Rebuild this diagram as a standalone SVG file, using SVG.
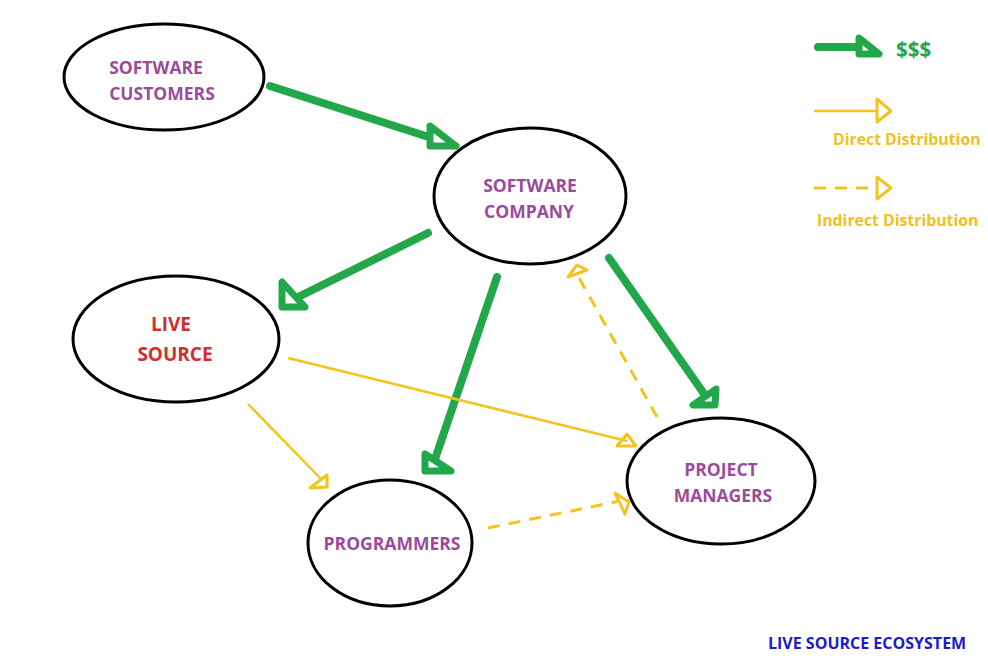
<svg xmlns="http://www.w3.org/2000/svg" width="988" height="668" viewBox="0 0 988 668">
<style>
.node ellipse{fill:none;stroke:#000;stroke-width:3}
.lbl{font-family:"Open Sans","Noto Sans",sans-serif;font-weight:bold;text-anchor:middle;dominant-baseline:central}
.pur{fill:#9b4b9b;font-size:17.5px}
.red{fill:#d22e2e;font-size:19px}
.g{stroke:#22a84a;stroke-width:8;stroke-linecap:round;fill:none}
.gh{stroke:#22a84a;stroke-width:7;stroke-linejoin:round;fill:#fff}
.y{stroke:#f2c41d;stroke-width:2.5;fill:none}
.yd{stroke:#f2c41d;stroke-width:3;fill:none;stroke-dasharray:12 9}
.yh{stroke:#f2c41d;stroke-width:3;fill:none;stroke-linejoin:round}
.leg{font-family:"Open Sans","Noto Sans",sans-serif;font-weight:bold;fill:#f2c01d;font-size:15.8px}
</style>
<rect width="988" height="668" fill="#fff"/>
<g id="connectors">
<line class="g" x1="270" y1="86" x2="438" y2="140"/>
<polygon class="gh" points="430,126 456,146 430,146"/>
<line class="g" x1="428" y1="233" x2="292" y2="300"/>
<polygon class="gh" points="282,282 282,307 305,307"/>
<line class="g" x1="497" y1="277" x2="434" y2="462"/>
<polygon class="gh" points="425,454 425,471 451,471"/>
<line class="g" x1="609" y1="258" x2="707" y2="398"/>
<polygon class="gh" points="716,389 693,405 715,405"/>
<line class="y" x1="288" y1="358" x2="627" y2="441"/>
<polygon class="yh" points="617,446 627,434 636,446"/>
<line class="y" x1="248" y1="404" x2="322" y2="480"/>
<polygon class="yh" points="310,488 327,475 327,487"/>
<line class="yd" x1="488" y1="528" x2="620" y2="501"/>
<polygon class="yh" points="615,493 629,502 625,514"/>
<line class="yd" x1="657" y1="417" x2="578" y2="276"/>
<polygon class="yh" points="568,277 577,265 587,270"/>
</g>
<g id="software-customers" class="node">
<ellipse cx="164" cy="77" rx="100" ry="53"/>
<text class="lbl pur" x="156" y="67">SOFTWARE</text>
<text class="lbl pur" x="162" y="93">CUSTOMERS</text>
</g>
<g id="software-company" class="node">
<ellipse cx="530" cy="196" rx="96" ry="68"/>
<text class="lbl pur" x="530" y="185">SOFTWARE</text>
<text class="lbl pur" x="529" y="211">COMPANY</text>
</g>
<g id="live-source" class="node">
<ellipse cx="176" cy="339" rx="103" ry="63"/>
<text class="lbl red" x="171" y="324">LIVE</text>
<text class="lbl red" x="175" y="354">SOURCE</text>
</g>
<g id="programmers" class="node">
<ellipse cx="390" cy="543" rx="82" ry="63"/>
<text class="lbl pur" x="392" y="543">PROGRAMMERS</text>
</g>
<g id="project-managers" class="node">
<ellipse cx="721" cy="481" rx="94" ry="63"/>
<text class="lbl pur" x="721" y="469">PROJECT</text>
<text class="lbl pur" x="723" y="495">MANAGERS</text>
</g>
<g id="legend">
<line class="g" x1="818" y1="47" x2="858" y2="47"/>
<polygon class="gh" points="859,38 879,54 859,54"/>
<text x="896" y="57" style="font-family:'Open Sans','Noto Sans',sans-serif;font-weight:bold;font-size:20.5px;fill:#22a84a">$$$</text>
<line class="y" x1="814" y1="111" x2="877" y2="111"/>
<polygon class="yh" points="877,99 891,111 877,122"/>
<text class="leg" x="833" y="145">Direct Distribution</text>
<line class="yd" x1="814" y1="188" x2="877" y2="188"/>
<polygon class="yh" points="877,177 891,188 877,199"/>
<text class="leg" x="817" y="226">Indirect Distribution</text>
</g>
<text x="768" y="649" style="font-family:'Open Sans','Noto Sans',sans-serif;font-weight:bold;font-size:16px;fill:#1c1ccc">LIVE SOURCE ECOSYSTEM</text>
</svg>
